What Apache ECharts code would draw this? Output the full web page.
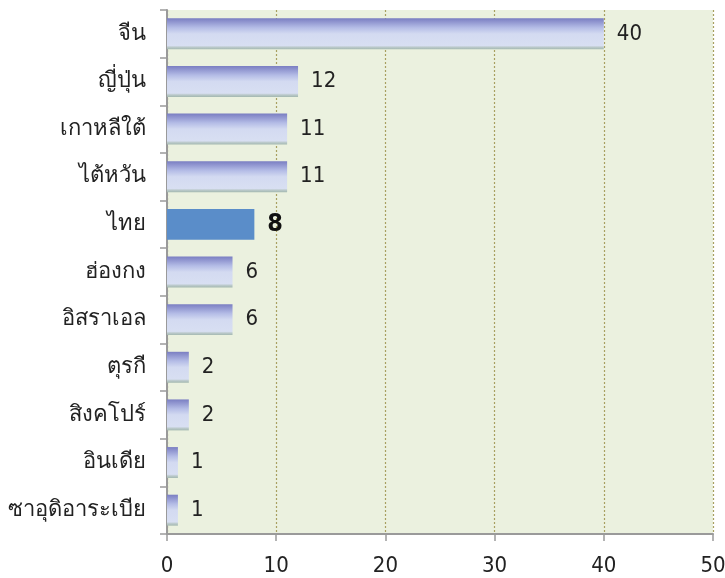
<!DOCTYPE html>
<html><head><meta charset="utf-8">
<script src="https://cdn.jsdelivr.net/npm/echarts@6/dist/echarts.min.js"></script>
<style>html,body{margin:0;padding:0;background:#fff}#c{width:725px;height:578px}</style>
</head><body><div id="c"></div>
<script>
var categories = ["จีน","ญี่ปุ่น","เกาหลีใต้","ไต้หวัน","ไทย","ฮ่องกง","อิสราเอล","ตุรกี","สิงคโปร์","อินเดีย","ซาอุดิอาระเบีย"];
var values = [40,12,11,11,8,6,6,2,2,1,1];
var highlight = "ไทย";
var xTicks = [0,10,20,30,40,50];

var font = "'DejaVu Sans Condensed', Tahoma, 'DejaVu Sans', sans-serif";
var grad = new echarts.graphic.LinearGradient(0,0,0,1,[
  {offset:0,color:'#7A7EC2'},
  {offset:0.3,color:'#B4BCE6'},
  {offset:0.5,color:'#D3DAF1'},
  {offset:0.88,color:'#D8DFF2'},
  {offset:0.93,color:'#BCCACC'},
  {offset:1,color:'#A3B8B0'}
]);
var data = values.map(function(v,i){
  if (categories[i]===highlight) {
    return {value:v,itemStyle:{color:'#5A8DC9'},label:{fontWeight:'bold',fontSize:25,color:'#111'}};
  }
  return {value:v,itemStyle:{color:grad}};
});
var chart = echarts.init(document.getElementById('c'),null,{renderer:'canvas'});
chart.setOption({
  animation:false,
  backgroundColor:'#ffffff',
  grid:{left:167,right:12,top:10,bottom:44,show:true,backgroundColor:'#EBF1DF',borderWidth:0,outerBoundsMode:'none',containLabel:false},
  xAxis:{type:'value',min:xTicks[0],max:xTicks[xTicks.length-1],interval:10,
    axisLine:{show:true,lineStyle:{color:'#9A9A9A',width:2}},
    axisTick:{show:true,length:7,lineStyle:{color:'#9A9A9A',width:1.5}},
    axisLabel:{fontSize:22,color:'#222',margin:21,fontFamily:font},
    splitLine:{show:true,lineStyle:{color:'#A8A060',type:[2,2],width:1.2}}
  },
  yAxis:{type:'category',data:categories,inverse:true,
    axisLine:{show:true,lineStyle:{color:'#9A9A9A',width:2}},
    axisTick:{show:true,length:7,lineStyle:{color:'#9A9A9A',width:1.5}},
    axisLabel:{fontSize:22,color:'#222',margin:21,fontFamily:font},
    splitLine:{show:false}
  },
  series:[{type:'bar',data:data,barWidth:'65%',
    itemStyle:{borderWidth:0},
    label:{show:true,position:'right',distance:13,fontSize:22,color:'#222',fontFamily:font}
  }]
});
</script></body></html>
